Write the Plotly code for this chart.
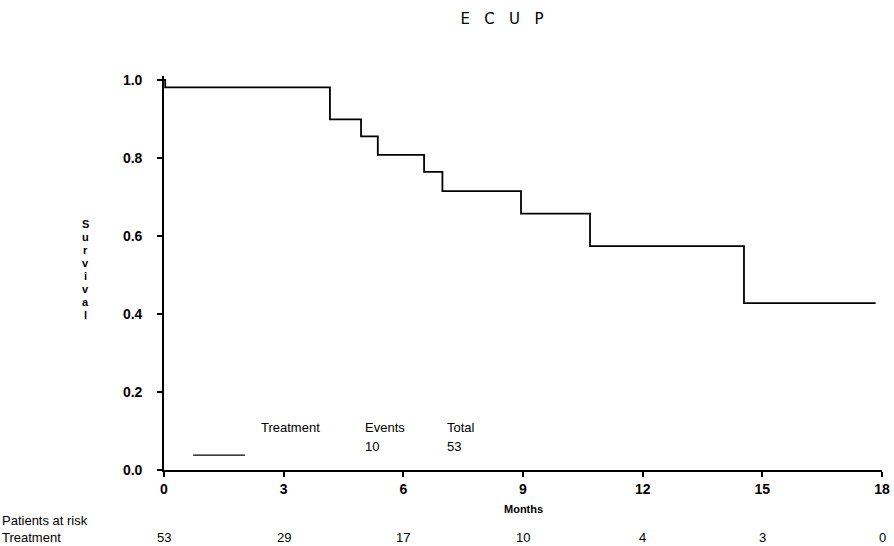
import plotly.graph_objects as go

# Kaplan-Meier step data (months, survival)
months = [0, 0.03, 4.16, 4.94, 5.36, 6.52, 6.98, 8.95, 10.68, 14.54, 17.84]
survival = [1.0, 0.981, 0.899, 0.855, 0.808, 0.764, 0.715, 0.657, 0.574, 0.428, 0.428]

x_ticks = [0, 3, 6, 9, 12, 15, 18]
y_ticks = [0.0, 0.2, 0.4, 0.6, 0.8, 1.0]
at_risk = [53, 29, 17, 10, 4, 3, 0]

legend_group = "Treatment"
legend_events = 10
legend_total = 53

FONT = "Liberation Sans"

fig = go.Figure()
fig.add_trace(go.Scatter(x=months, y=survival, mode="lines", line_shape="hv",
                         line=dict(color="black", width=1.8), showlegend=False,
                         hoverinfo="skip"))

fig.update_layout(
    width=894, height=546,
    margin=dict(l=164, r=12, t=76, b=76, autoexpand=False),
    paper_bgcolor="white", plot_bgcolor="white",
    showlegend=False,
    font=dict(family=FONT, color="black", size=12),
    title=dict(text="E   C   U   P", x=502 / 894, xanchor="center", y=1 - 19 / 546,
               yanchor="middle", font=dict(family="DejaVu Sans", size=15, color="black")),
)
fig.update_xaxes(range=[0, 18], tickvals=x_ticks, ticktext=[str(v) for v in x_ticks],
                 automargin=False,
                 showgrid=False, zeroline=False, showline=True, linecolor="black", linewidth=1.6,
                 ticks="outside", ticklen=5, tickwidth=1.6, tickcolor="black",
                 tickfont=dict(family=FONT, size=14, weight="bold"))
fig.update_yaxes(range=[0, 1.01], tickvals=y_ticks, ticktext=[f"{v:.1f}" for v in y_ticks],
                 automargin=False,
                 showgrid=False, zeroline=False, showline=True, linecolor="black", linewidth=1.6,
                 ticks="outside", ticklen=5, tickwidth=1.6, tickcolor="black",
                 ticklabelstandoff=12,
                 tickfont=dict(family=FONT, size=14, weight="bold"))

ann = []
# y axis title stacked letters
letters = list("Survival")
for i, ch in enumerate(letters):
    ypix = 224 + i * (315 - 224) / (len(letters) - 1)
    ann.append(dict(text=ch, xref="paper", yref="paper",
                    x=(85 - 164) / 718, y=(470 - ypix) / 394, xanchor="center", yanchor="middle",
                    showarrow=False, font=dict(family=FONT, size=11, weight="bold")))
# x axis title
ann.append(dict(text="Months", xref="paper", yref="paper", x=(523 - 164) / 718,
                y=(470 - 509) / 394, xanchor="center", yanchor="middle", showarrow=False,
                font=dict(family=FONT, size=11, weight="bold")))
# risk table
ann.append(dict(text="Patients at risk", xref="paper", yref="paper", x=-164 / 718,
                y=(470 - 520) / 394, xanchor="left", yanchor="middle", showarrow=False,
                font=dict(family=FONT, size=13)))
ann.append(dict(text=legend_group, xref="paper", yref="paper", x=-164 / 718,
                y=(470 - 537) / 394, xanchor="left", yanchor="middle", showarrow=False,
                font=dict(family=FONT, size=13)))
for xv, n in zip(x_ticks, at_risk):
    ann.append(dict(text=str(n), xref="x", yref="paper", x=xv, y=(470 - 537) / 394,
                    xanchor="center", yanchor="middle", showarrow=False,
                    font=dict(family=FONT, size=13)))
# legend block
ann.append(dict(text=legend_group, xref="x", yref="y", x=2.38, y=0.110, xanchor="left",
                yanchor="middle", showarrow=False, font=dict(family=FONT, size=13)))
ann.append(dict(text="Events", xref="x", yref="y", x=4.99, y=0.110, xanchor="left",
                yanchor="middle", showarrow=False, font=dict(family=FONT, size=13)))
ann.append(dict(text=str(legend_events), xref="x", yref="y", x=4.99, y=0.0615, xanchor="left",
                yanchor="middle", showarrow=False, font=dict(family=FONT, size=13)))
ann.append(dict(text="Total", xref="x", yref="y", x=7.04, y=0.110, xanchor="left",
                yanchor="middle", showarrow=False, font=dict(family=FONT, size=13)))
ann.append(dict(text=str(legend_total), xref="x", yref="y", x=7.04, y=0.0615, xanchor="left",
                yanchor="middle", showarrow=False, font=dict(family=FONT, size=13)))
fig.update_layout(annotations=ann)
fig.add_shape(type="line", xref="x", yref="y", x0=0.73, x1=2.03, y0=0.038, y1=0.038,
              line=dict(color="black", width=1.3))

fig.write_html("out.html")
